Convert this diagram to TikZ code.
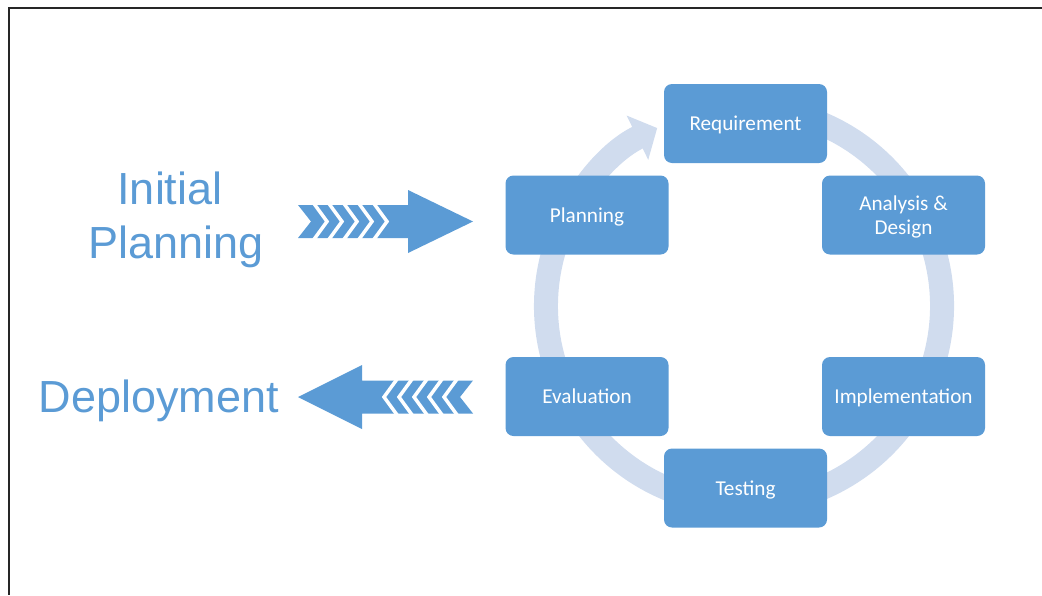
\documentclass[tikz,border=0pt]{standalone}
\usepackage{fontspec}
\setmainfont{Carlito}
\newfontfamily\arialfont{Liberation Sans}
\usetikzlibrary{arrows.meta}
\definecolor{boxblue}{RGB}{91,155,213}
\definecolor{ringblue}{RGB}{208,220,238}
\begin{document}
\begin{tikzpicture}[x=0.5pt,y=-0.5pt,
  phase/.style={fill=boxblue, rounded corners=4pt, minimum width=81.5pt, minimum height=39.5pt,
    inner sep=0pt, text=white, font=\fontsize{10.6}{12}\selectfont, align=center},
  oneline/.style={text height=7pt, text depth=0pt},
  sidetext/.style={font=\arialfont\fontsize{22.5}{27}\selectfont, text=boxblue, align=center, inner sep=0pt},
  chev/.style={white, line width=1.75pt, line join=miter},
  ring/.style={ringblue, line width=12pt, -{Triangle[length=11pt,width=24pt]}}]
\useasboundingbox (0,0) rectangle (1042,595);
% frame
\draw[line width=1pt, black!85] (1042,8) -- (9,8) -- (9,595);
% cycle ring
\coordinate (ctr) at (744,306);
\draw[ring] (ctr) ++(-75:198) arc[start angle=-75, end angle=244, radius=198];
% phases
\node[phase, oneline] (req) at (745.5,123.5) {Requirement};
\node[phase, oneline] (plan) at (587,215) {Planning};
\node[phase, text depth=0pt] (ana) at (903.5,215) {Analysis \&\\Design};
\node[phase, oneline] (eval) at (587,396.5) {Evaluation};
\node[phase, oneline] (impl) at (903.5,396.5) {Implementation};
\node[phase, oneline] (test) at (745.5,488) {Testing};
% side labels
\node[sidetext, anchor=north] (initial) at (176,171) {\hspace*{-6pt}Initial\\Planning};
\node[sidetext, anchor=base] (deploy) at (159,412) {Deployment};
% striped right arrow
\fill[boxblue] (298,205) -- (311,221.5) -- (298,238) -- (408,238) -- (408,253) -- (473,221.5)
  -- (408,190) -- (408,205) -- cycle;
\foreach \k in {0,...,4}{
  \draw[chev] ({313.5+15*\k},203) -- ({327+15*\k},221.5) -- ({313.5+15*\k},240);
}
% striped left arrow
\fill[boxblue] (473,380.5) -- (460,397) -- (473,413.5) -- (362,413.5) -- (362,429) -- (298,397)
  -- (362,365) -- (362,380.5) -- cycle;
\foreach \k in {0,...,4}{
  \draw[chev] ({457.5-15*\k},378.5) -- ({444-15*\k},397) -- ({457.5-15*\k},415.5);
}
\end{tikzpicture}
\end{document}
